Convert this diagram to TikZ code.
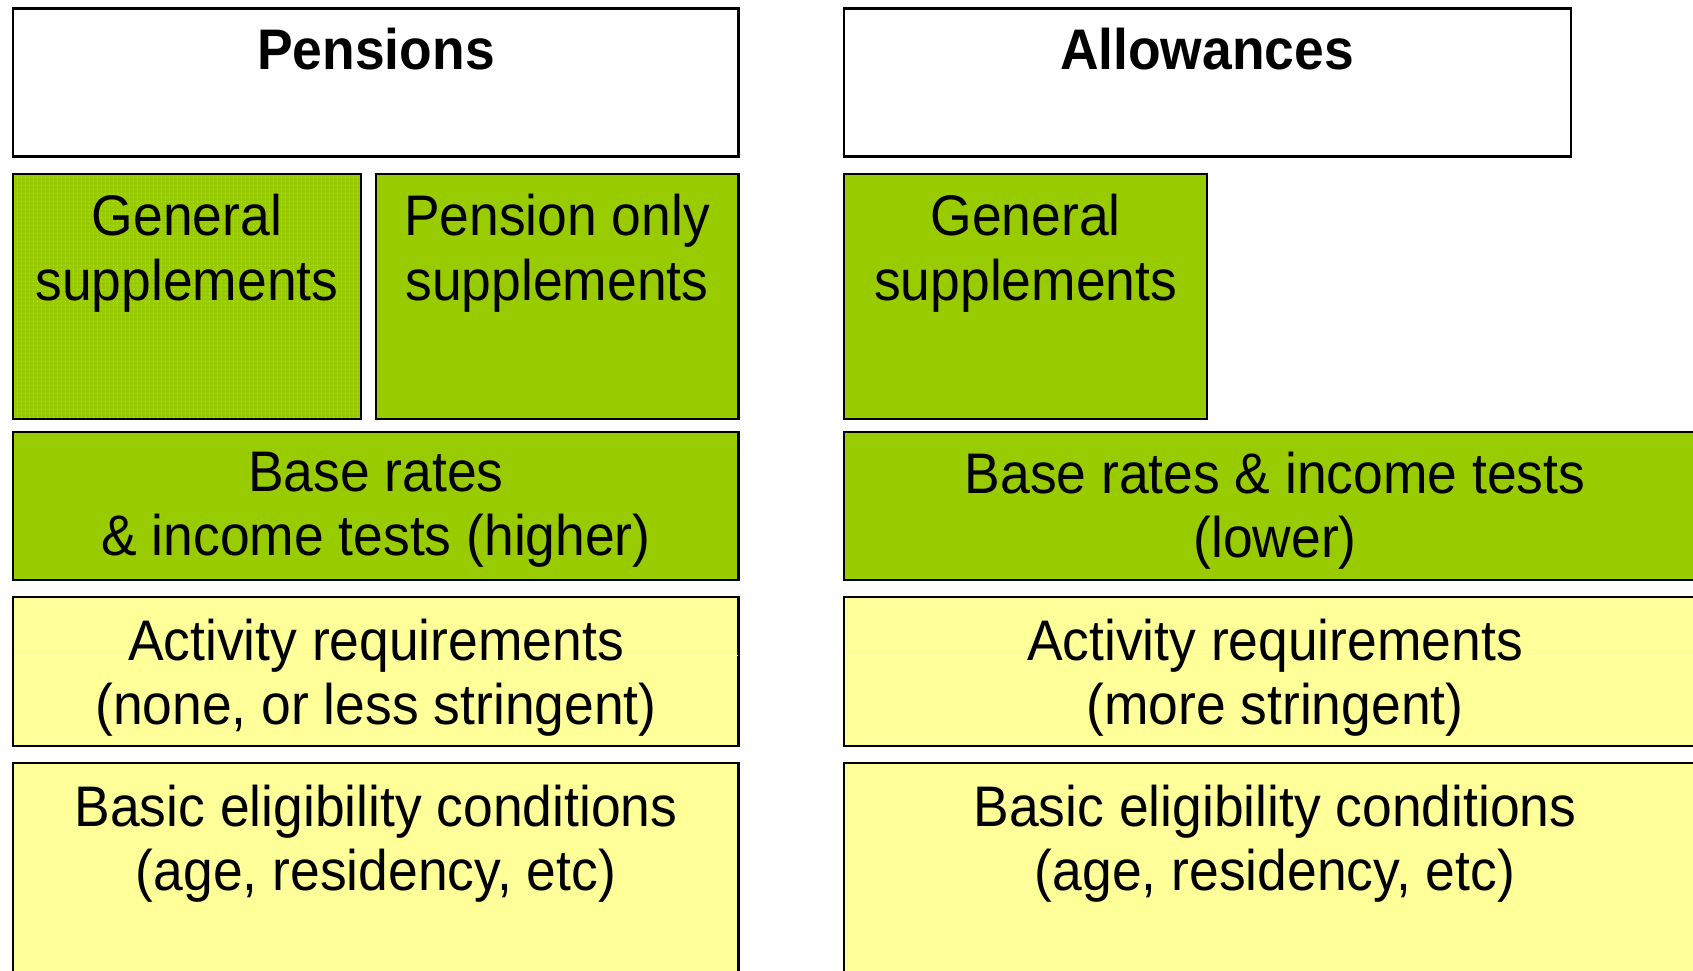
\documentclass[tikz,border=0pt]{standalone}
\usepackage{fontspec}
\setmainfont[FakeStretch=0.934]{Liberation Sans}
\usetikzlibrary{patterns}
\definecolor{leafgreen}{HTML}{99CC00}
\definecolor{paleyellow}{HTML}{FFFF99}
\pgfdeclarepatternformonly{finedots}{\pgfpointorigin}{\pgfqpoint{1pt}{1pt}}{\pgfqpoint{1pt}{1pt}}%
  {\pgfpathrectangle{\pgfqpoint{0.4pt}{0.4pt}}{\pgfqpoint{0.2pt}{0.2pt}}\pgfusepath{fill}}
\tikzset{
  plainbox/.style={draw, line width=0.6pt, fill=white},
  greenbox/.style={draw, line width=0.6pt, fill=leafgreen},
  yellowbox/.style={draw, line width=0.6pt, fill=paleyellow},
  lbl/.style={anchor=north, inner sep=0pt, align=center,
    font={\fontsize{14.3}{16.1}\selectfont}},
  headlbl/.style={lbl, font={\fontsize{14.3}{16.1}\selectfont\bfseries}}
}
\begin{document}
\begin{tikzpicture}[x=0.25pt,y=-0.25pt]
        \useasboundingbox (0,0) rectangle (1693,971) ;
        \clip (0,0) rectangle (1693,971) ;

        % pensions column
        \draw[plainbox] (13,8.6) rectangle (738.5,156.5) ;
        \draw[greenbox] (13,174) rectangle (361,419) ;
        \fill[pattern=finedots, pattern color=white!70!leafgreen] (14,175) rectangle (360,418) ;
        \draw[greenbox] (376,174) rectangle (738.5,419) ;
        \draw[greenbox] (13,432) rectangle (738.5,580) ;
        \draw[yellowbox] (13,597) rectangle (738.5,746) ;
        \draw[yellowbox] (13,763) rectangle (738.5,990) ;

        % allowances column
        \draw[plainbox] (844,8.6) rectangle (1571,156.5) ;
        \draw[greenbox] (844,174) rectangle (1207,419) ;
        \draw[greenbox] (844,432) rectangle (1710,580) ;
        \draw[yellowbox] (844,597) rectangle (1710,746) ;
        \draw[yellowbox] (844,763) rectangle (1710,990) ;

        \draw[white, line width=0.2pt] (14,655) -- (737.5,655) ;
        \draw[white, line width=0.2pt] (845,655) -- (1693,655) ;

        \node (penstitle) [headlbl] at (376,27.5) {Pensions} ;
        \node (allowtitle) [headlbl] at (1207,27.5) {Allowances} ;

        \node (gensupl) [lbl] at (187,193.5) {General\\supplements} ;
        \node (pensonly) [lbl] at (557,193.5) {Pension only\\supplements} ;
        \node (gensupr) [lbl] at (1025.7,193.5) {General\\supplements} ;

        \node (basel) [lbl] at (376,451) {Base rates\\\& income tests (higher)} ;
        \node (baser) [lbl] at (1275,451) {Base rates \& income tests\\(lower)} ;

        \node (actl) [lbl] at (376,618) {Activity requirements\\(none, or less stringent)} ;
        \node (actr) [lbl] at (1275,618) {Activity requirements\\(more stringent)} ;

        \node (elil) [lbl] at (376,784) {Basic eligibility conditions\\(age, residency, etc)} ;
        \node (elir) [lbl] at (1275,784) {Basic eligibility conditions\\(age, residency, etc)} ;
\end{tikzpicture}
\end{document}
